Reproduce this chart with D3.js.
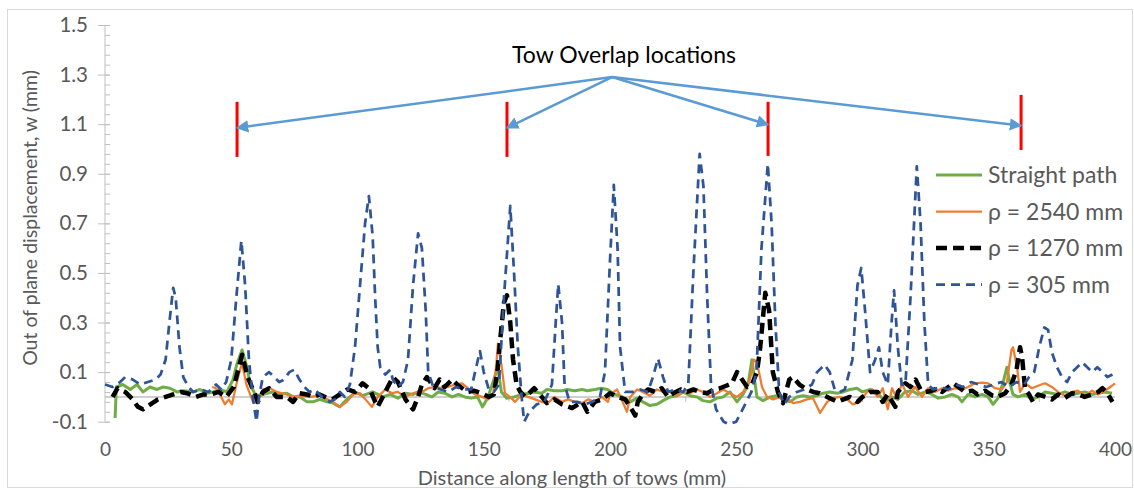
<!DOCTYPE html>
<html><head><meta charset="utf-8">
<script src="https://cdn.jsdelivr.net/npm/d3@7"></script>
<style>
body{margin:0;background:#fff;}
text{font-family:Lato,"Open Sans",sans-serif;}
</style></head>
<body><svg id="chart" width="1134" height="490"></svg>
<script>
// ---------- data ----------
const seriesNames = ["Straight path", "\u03C1 = 2540 mm", "\u03C1 = 1270 mm", "\u03C1 = 305 mm"];
const xTicks = [0, 50, 100, 150, 200, 250, 300, 350, 400];
const yTicks = [-0.1, 0.1, 0.3, 0.5, 0.7, 0.9, 1.1, 1.3, 1.5];
const overlapX = [52.3, 159.2, 262.6, 362.8];
const overlapTop = [1.19, 1.19, 1.19, 1.218];
const overlapBottom = [0.968, 0.968, 0.972, 0.996];
const arrowTipY = [1.085, 1.085, 1.098, 1.094];
const annotationOrigin = [200.8, 1.29];
const annotationLabel = "Tow Overlap locations";

const straightPath = [[4,-0.085],[4.5,0.04],[7,0.05],[10,0.03],[12.7,0.05],[15,0.02],[17.8,0.04],[20.6,0.03],[23,0.04],[25.7,0.035],[28.5,0.02],[31,0.025],[35,0.02],[37.6,0.03],[40.4,0.015],[42.8,0.02],[45.5,0.03],[48.3,0.02],[50.7,0.07],[52.3,0.135],[54.3,0.19],[56.2,0.12],[57.4,0.055],[59.4,0.01],[61.4,0.005],[64.2,0.015],[66.5,0.02],[69.3,0.01],[72,0.015],[74.5,0.0],[77.2,0.0],[80,-0.02],[82.4,-0.02],[85,-0.01],[88,-0.02],[90.3,-0.025],[93,-0.04],[95.8,-0.01],[98.2,0.01],
[99,0.02],[102,0.005],[106,0.02],[110,0.0],[113,0.01],[116,-0.005],[119,0.015],[122,0.01],[124,0.02],[127,0.01],[129.5,0.0],[132,0.02],[134.5,0.015],[137.5,0.0],[140,0.01],[142.5,0.0],[145,-0.005],[147.5,0.0],[149.5,-0.04],[151.5,-0.005],[154,0.07],[155.5,0.12],[157,0.02],[159,-0.005],[162,0.0],[165,0.01],[168,0.015],[170,0.02],[173,0.015],[175,0.03],[178,0.025],[181,0.025],[183,0.03],[186,0.025],[189,0.03],[191,0.025],[194,0.03],[196.5,0.035],[199,0.03],
[202,0.01],[205,0.0],[208,-0.02],[210.7,-0.005],[213,-0.02],[215.8,-0.035],[218.6,-0.03],[221,-0.015],[223.8,0.0],[226.5,0.005],[229,0.02],[231.7,0.005],[234.5,0.0],[236.8,-0.015],[239.6,-0.02],[242.4,-0.005],[244.8,0.0],[247.5,0.02],[250.3,-0.02],[252.7,0.01],[254.7,0.05],[256.2,0.15],[257.5,0.05],[258.2,0.0],[260.6,-0.015],[263.4,0.0],[266,0.005],[268.5,-0.01],[271.3,-0.02],[274,0.0],[276.4,0.005],[279.2,0.0],[282,0.005],[284.4,0.015],[287,0.02],[290,0.015],[292.3,0.02],[295,0.03],[297.8,0.035],[300,0.02],[303,0.03],
[306,0.015],[309,-0.02],[311.7,0.0],[314,-0.01],[316.8,0.02],[319.6,0.025],[322,0.01],[325,0.02],[327.5,0.01],[330,-0.005],[332.7,0.0],[335.4,0.01],[337.8,0.0],[339.4,-0.02],[341.8,0.01],[344.6,0.0],[347.3,0.01],[349.7,0.0],[351.7,-0.03],[353.7,-0.005],[355.6,0.055],[357.2,0.12],[358.4,0.055],[359.6,0.01],[361.6,0.0],[364.4,0.01],[367.1,-0.01],[369.5,0.0],[372.3,0.02],[375,0.015],[377.4,0.01],[380.2,0.02],[383,0.01],[385.3,0.015],[388.1,0.02],[390.9,0.01],[393.3,0.015],[396,0.02],[398.8,0.015]];

const rho2540 = [[42.4,0.04],[44,0.035],[46,0.0],[47.5,-0.03],[49,-0.01],[50.3,-0.03],[52,0.05],[53.5,0.11],[54.3,0.135],[56,0.05],[58.6,-0.02],[60.2,-0.025],[62.6,0.03],[65.3,0.035],[68,0.02],[70,0.015],[72,0.01],[74,0.0],[77,0.005],[81,0.0],[85,0.005],[88,-0.01],[90.3,-0.02],[93,-0.04],[95.8,-0.02],[98.2,0.01],[101,0.015],
[104,-0.02],[105.7,-0.04],[108,0.0],[111,0.03],[113.7,0.015],[116,0.02],[118.8,0.0],[122,0.015],[125.5,0.02],[128,0.035],[130.7,0.04],[133.5,0.035],[135.8,0.04],[138.6,0.05],[141.4,0.055],[143.8,0.035],[146.5,0.01],[149.3,0.0],[151.7,-0.01],[153.7,0.01],[155,0.135],[155.6,0.215],[157,0.13],[158.4,0.015],[160.4,0.0],[162.4,-0.02],[165,0.01],[167.5,0.0],[170.3,-0.01],[173,-0.02],[175.4,-0.025],[178,0.0],[181,-0.02],[183.4,-0.01],[186,-0.02],[189,-0.025],[191.3,-0.01],[194,-0.02],[196.8,0.0],[199.2,-0.02],
[200,0.01],[202.8,0.03],[205,-0.02],[206.7,-0.06],[208,0.0],[210.7,0.03],[213,0.02],[215.8,0.005],[218.6,0.03],[221,0.02],[223.8,0.02],[226.5,0.005],[229,0.02],[231.7,0.015],[234.5,0.03],[236.8,0.02],[239.6,0.0],[242.4,0.015],[244.8,0.03],[247.5,0.015],[250.3,0.0],[252.7,0.02],[255.4,0.07],[257,0.15],[258.2,0.14],[260.2,0.04],[262.2,0.0],[264.6,-0.01],[267.3,0.0],[270,-0.005],[272.5,-0.025],[275.2,-0.02],[278,-0.01],[280.4,-0.005],[283.2,-0.065],[286,-0.02],[288.3,-0.005],[291,0.0],[293.9,-0.01],[296.2,-0.03],[299,-0.02],[301.8,0.02],
[303.8,0.03],[306,0.0],[308,0.035],[310,-0.05],[311.7,0.035],[313.7,-0.01],[315.6,0.055],[318,0.0],[320.8,0.04],[323.6,0.0],[326,0.035],[328.7,0.02],[331.5,0.035],[333.9,0.025],[336.6,0.035],[339.4,0.03],[341.8,0.04],[344.6,0.055],[347.3,0.058],[349.7,0.055],[352.5,0.035],[355.2,0.03],[357.2,0.06],[359,0.19],[359.6,0.2],[361.2,0.12],[362.4,0.02],[364.4,0.055],[367.1,0.035],[369.5,0.045],[372.3,0.055],[375,0.04],[377.4,0.02],[380.2,0.005],[383,0.02],[385.3,0.025],[388.1,0.005],[390.9,0.025],[393.3,0.01],[396,0.025],[398.8,0.045],[400,0.055]];

const rho1270 = [[3,0.0],[5,0.035],[8,0.02],[11,-0.01],[13,-0.04],[15,-0.05],[18,-0.03],[21,-0.01],[24,0.0],[27,0.01],[30,0.02],[32.5,0.015],[36,0.0],[39,0.01],[42,0.01],[45,0.02],[48,0.0],[51,0.04],[52.5,0.1],[54.3,0.17],[56.5,0.08],[59,0.02],[60.5,-0.02],[62.5,0.02],[65,0.035],[68,0.0],[72,0.0],[74.5,-0.02],[77,0.015],[80,0.01],[82.5,0.0],[85,0.01],[88,-0.005],[90,-0.01],[93,0.01],[96,0.03],[99,0.02],
[102,0.055],[105,0.03],[107,-0.02],[108,-0.04],[110,0.0],[112,0.04],[114,0.08],[116,0.06],[119,-0.01],[122,-0.05],[124,0.0],[125.5,0.05],[127.5,0.08],[130.5,0.035],[132.5,0.07],[134.5,0.04],[137.5,0.07],[139.5,0.05],[141.5,0.035],[143.5,0.02],[146,0.025],[149,0.015],[152,0.0],[154,0.01],[155.5,0.11],[156.5,0.23],[158,0.38],[159.2,0.41],[160.5,0.3],[161.6,0.15],[163,0.05],[164.5,0.02],[166.5,0.0],[170,0.035],[173,0.0],[175,-0.025],[178,-0.01],[181,-0.03],[185,-0.045],[189,-0.02],[191,-0.06],[194,-0.02],[197,-0.01],
[200,0.015],[203,0.0],[206,-0.01],[208,-0.04],[210,-0.075],[211,-0.02],[213,0.01],[215,0.03],[218,0.02],[220.5,0.035],[223,0.0],[225,0.015],[228,0.03],[230.5,0.02],[233,0.03],[235.5,0.02],[238.5,0.015],[241,0.03],[243.5,0.035],[246,0.045],[248.3,0.055],[250.3,0.1],[252.3,0.07],[254.3,0.04],[256.2,0.05],[258.2,0.1],[259.4,0.19],[261.5,0.42],[263,0.35],[264.5,0.1],[266.5,0.02],[268.5,-0.025],[271,0.07],[272.5,0.08],[275,0.05],[278,0.03],[280.5,0.02],[283,0.015],[286,0.0],[290,-0.02],[292.5,-0.01],[295,0.0],[298,-0.02],[300,0.0],[303,0.02],
[306,0.02],[308,-0.02],[310,0.01],[313,-0.04],[314,0.02],[317,0.055],[319,0.04],[321,0.07],[323,0.03],[325,0.02],[327.5,0.025],[329.5,0.035],[331.5,0.02],[334,0.04],[336,0.055],[338,0.04],[340.5,0.02],[343.5,0.025],[345.5,0.01],[348.5,0.025],[351.5,0.005],[353.5,0.0],[356.5,0.015],[359,0.05],[361,0.11],[362.4,0.2],[363.2,0.16],[364.4,0.03],[366,0.01],[367.5,-0.02],[369.5,0.01],[372.5,0.0],[375,-0.01],[377.5,0.01],[380,-0.005],[383,0.015],[385.5,0.01],[388,0.0],[391,0.01],[393.3,0.02],[395,0.035],[397,0.015],[399,-0.02]];

const rho305 = [[0,0.05],[3,0.04],[6,0.06],[8,0.08],[11,0.07],[14,0.05],[17,0.06],[20,0.07],[22,0.09],[24,0.15],[25.5,0.3],[27,0.44],[28,0.4],[29.5,0.2],[31,0.08],[33,0.04],[35,0.02],[38,0.03],[41,0.02],[44,0.05],[46,0.03],[48,0.06],[50,0.15],[52,0.4],[54,0.63],[55.5,0.45],[57,0.15],[58.5,0.0],[60,-0.1],[61,0.0],[62.5,0.08],[65,0.1],[67,0.08],[69,0.06],[71,0.07],[73,0.1],[75,0.11],[77,0.07],[79,0.04],[81,0.02],[83,0.03],[86,0.0],[89,-0.02],[91,-0.01],[93,0.02],[95,0.0],[97,0.05],[99,0.2],[101,0.45],[103,0.7],[104.5,0.81],[106,0.65],[107,0.4],[108,0.2],[109,0.12],[111,0.09],[113,0.11],[114,0.07],[116,0.04],[118,0.06],[120,0.15],[122,0.45],[124,0.66],[125.5,0.6],[127,0.35],[128,0.1],[130,0.04],[133,0.03],[136,0.02],[139,0.04],[142,0.03],[145,0.03],[147,0.12],[148.5,0.185],[150,0.1],[152,0.03],[154,0.02],[156,0.05],[158,0.4],[160.5,0.77],[162,0.5],[163.5,0.2],[165,0.0],[166,-0.1],[168,-0.06],[171,-0.03],[174,-0.02],[177,0.05],[178.5,0.3],[179.5,0.455],[181,0.3],[182,0.05],[184,-0.02],[187,-0.02],[190,-0.03],[193,-0.02],[196,0.0],[198,0.1],[200,0.55],[201.5,0.855],[203,0.6],[204,0.2],[206,0.02],[209,0.02],[212,0.03],[215,0.02],[217,0.08],[219,0.155],[221,0.08],[223,0.02],[226,0.03],[229,0.02],[231,0.05],[233,0.5],[235.5,0.98],[237,0.85],[238.5,0.4],[240,0.05],[242,-0.05],[245,-0.1],[247,-0.11],[250,-0.1],[252,-0.06],[254,-0.02],[256,0.02],[258,0.1],[260,0.6],[262.5,0.94],[264,0.7],[265.5,0.3],[267,0.02],[269,-0.03],[271,0.0],[274,0.02],[277,0.03],[280,0.05],[282,0.1],[285,0.13],[287,0.1],[289,0.03],[291,0.02],[293,0.03],[296,0.15],[298,0.45],[299.5,0.52],[301,0.35],[303,0.1],[305,0.15],[306.5,0.2],[308,0.1],[310,0.05],[311.5,0.3],[312.5,0.43],[314,0.2],[315.5,0.05],[317,0.05],[319,0.4],[321.5,0.93],[323,0.7],[324.5,0.3],[326,0.05],[328,0.03],[331,0.04],[334,0.03],[337,0.05],[340,0.04],[343,0.06],[346,0.05],[349,0.04],[352,0.05],[355,0.06],[358,0.04],[361,0.06],[364,0.05],[366,0.08],[368,0.1],[370,0.2],[372,0.28],[373.5,0.27],[375,0.18],[377,0.12],[379,0.08],[381,0.06],[383,0.1],[385,0.12],[387,0.14],[389,0.12],[391,0.1],[393,0.12],[395,0.1],[397,0.08],[399,0.09]];

// ---------- layout / styles ----------
const svg = d3.select("#chart");
const W = 1134, H = 490;
const plot = {left: 105, right: 1115, top: 25, bottom: 421.7};
const x = d3.scaleLinear().domain([0, 400]).range([plot.left, plot.right]);
const y = d3.scaleLinear().domain([-0.1, 1.5]).range([plot.bottom, plot.top]);
const axisColor = "#BFBFBF", textColor = "#595959";

svg.append("rect").attr("x", 7.5).attr("y", 9.5).attr("width", W - 9).attr("height", H - 12)
  .attr("fill", "#fff").attr("stroke", "#D9D9D9").attr("stroke-width", 1);

// y axis
const yMinor = d3.range(-0.1, 1.5001, 0.04);
const gyMinor = svg.append("g").attr("transform", `translate(${plot.left},0)`)
  .call(d3.axisRight(y).tickValues(yMinor).tickSize(5).tickFormat(""));
gyMinor.select(".domain").remove();
gyMinor.selectAll("line").attr("stroke", axisColor);
const gy = svg.append("g").attr("transform", `translate(${plot.left},0)`)
  .call(d3.axisLeft(y).tickValues(yTicks).tickSize(7).tickPadding(10).tickFormat(d => d.toFixed(1)));
gy.select(".domain").attr("stroke", axisColor).attr("d", `M0,${plot.bottom}V${plot.top}`);
gy.selectAll("line").attr("stroke", axisColor).attr("x2", -7).attr("x1", 5);
gy.selectAll("text").attr("fill", textColor).style("font-size", "20.5px").style("font-family", "Lato");

// zero line with category ticks
const gz = svg.append("g").attr("transform", `translate(0,${y(0)})`)
  .call(d3.axisBottom(x).tickValues([19.8, 89.8, 159.8, 229.8, 299.8, 369.8]).tickSize(5).tickFormat(""));
gz.select(".domain").attr("stroke", axisColor).attr("d", `M${plot.left},0H${plot.right}`).attr("stroke-width", 1.5);
gz.selectAll("line").attr("stroke", axisColor);

// x tick labels
const gx = svg.append("g").attr("transform", `translate(0,${plot.bottom})`)
  .call(d3.axisBottom(x).tickValues(xTicks).tickSize(0).tickPadding(21));
gx.select(".domain").remove();
gx.selectAll("text").attr("fill", textColor).style("font-size", "19px").style("font-family", "Lato");

// axis titles
svg.append("text").attr("x", 572).attr("y", 485)
  .attr("text-anchor", "middle").attr("fill", textColor).style("font-size", "20px")
  .text("Distance along length of tows (mm)");
svg.append("text").attr("transform", `translate(37,218) rotate(-90)`)
  .attr("text-anchor", "middle").attr("fill", textColor).style("font-size", "19.5px")
  .text("Out of plane displacement, w (mm)");

// series
const line = d3.line().x(d => x(d[0])).y(d => y(d[1]));
const styles = [
  {data: straightPath, color: "#70AD47", width: 3, dash: null},
  {data: rho2540, color: "#ED7D31", width: 2.25, dash: null},
  {data: rho1270, color: "#000000", width: 4.5, dash: "11,6"},
  {data: rho305, color: "#2F5597", width: 2.75, dash: "9,6"}
];
styles.forEach(s => {
  svg.append("path").datum(s.data).attr("d", line)
    .attr("fill", "none").attr("stroke", s.color).attr("stroke-width", s.width)
    .attr("stroke-linejoin", "round").attr("stroke-dasharray", s.dash);
});

// legend
const lg = svg.append("g");
seriesNames.forEach((name, i) => {
  const ly = 175 + i * 36.5;
  const s = styles[i];
  lg.append("line").attr("x1", 936).attr("x2", 982).attr("y1", ly).attr("y2", ly)
    .attr("stroke", s.color).attr("stroke-width", s.width).attr("stroke-dasharray", s.dash);
  lg.append("text").attr("x", 988).attr("y", ly + 8).attr("fill", textColor)
    .style("font-size", "23px").text(name);
});

// annotation
const defs = svg.append("defs");
defs.append("marker").attr("id", "arrow").attr("viewBox", "0 0 10 10").attr("refX", 9).attr("refY", 5)
  .attr("markerWidth", 5).attr("markerHeight", 5).attr("orient", "auto-start-reverse")
  .attr("markerUnits", "strokeWidth")
  .append("path").attr("d", "M0,0L10,5L0,10z").attr("fill", "#5B9BD5");
overlapX.forEach((ox, i) => {
  svg.append("line").attr("x1", x(ox)).attr("x2", x(ox)).attr("y1", y(overlapTop[i])).attr("y2", y(overlapBottom[i]))
    .attr("stroke", "#FF0000").attr("stroke-width", 3);
  svg.append("line").attr("x1", x(annotationOrigin[0])).attr("y1", y(annotationOrigin[1]))
    .attr("x2", x(ox)).attr("y2", y(arrowTipY[i]))
    .attr("stroke", "#5B9BD5").attr("stroke-width", 2.5).attr("marker-end", "url(#arrow)");
});
svg.append("text").attr("x", 624).attr("y", 63).attr("text-anchor", "middle").attr("fill", "#000")
  .style("font-size", "23px").text(annotationLabel);
</script></body></html>
